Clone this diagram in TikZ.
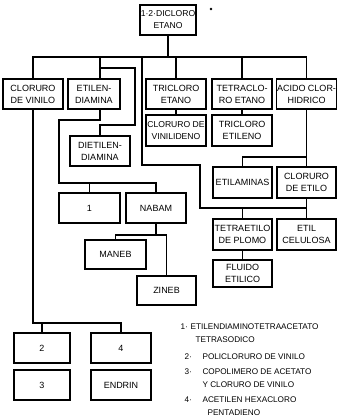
\documentclass[tikz,border=0pt]{standalone}
\usepackage{fontspec}
\setmainfont{Liberation Sans}
\usepackage{tikz}
\usetikzlibrary{calc}

\begin{document}
\begin{tikzpicture}[x=1pt,y=-1pt,line width=1.1pt,
  caja/.style={draw,line width=1.2pt,align=center,inner sep=0.5pt,minimum width=60pt,minimum height=30pt,font=\fontsize{9}{12}\selectfont},
  nota/.style={anchor=west,inner sep=0pt,font=\fontsize{8.2}{9}\selectfont}]
  \fill[white] (0,0) rectangle (337,420);
  \node[caja,minimum width=56pt,font=\fontsize{8.6}{12}\selectfont] (dicloro) at (168,20) {1·2·DICLORO\\ETANO};
  \fill (211,9) circle (1.4);
  \node[caja] (vinilo) at (33,94) {CLORURO\\DE VINILO};
  \node[caja,minimum width=52pt] (etilen) at (94,94) {ETILEN-\\DIAMINA};
  \node[caja] (tricloro) at (176,94) {TRICLORO\\ETANO};
  \node[caja] (tetra) at (242,94) {TETRACLO-\\RO ETANO};
  \node[caja] (acido) at (306.5,94) {ACIDO CLOR-\\HIDRICO};
  \node[caja,minimum height=31pt,font=\fontsize{8.6}{12}\selectfont] (vinilideno) at (176,130.5) {CLORURO DE\\VINILIDENO};
  \node[caja,minimum height=31pt] (trietileno) at (242,130.5) {TRICLORO\\ETILENO};
  \node[caja] (dietilen) at (100,151) {DIETILEN-\\DIAMINA};
  \node[caja,minimum width=59pt,minimum height=31pt] (etilaminas) at (242.5,182.5) {ETILAMINAS};
  \node[caja,minimum width=59pt,minimum height=31pt] (cletilo) at (306.5,182.5) {CLORURO\\DE ETILO};
  \node[caja,minimum width=59pt,minimum height=31pt] (tetraetilo) at (242.5,234.5) {TETRAETILO\\DE PLOMO};
  \node[caja,minimum width=59pt,minimum height=31pt] (celulosa) at (306.5,234.5) {ETIL\\CELULOSA};
  \node[caja,minimum width=59pt,minimum height=27pt] (fluido) at (242.5,273.5) {FLUIDO\\ETILICO};
  \node[caja,minimum width=61pt] (uno) at (89.5,208) {1};
  \node[caja] (nabam) at (156,208) {NABAM};
  \node[caja,minimum width=61pt,minimum height=29pt] (maneb) at (115.5,254.5) {MANEB};
  \node[caja,minimum width=59pt,minimum height=29pt] (zineb) at (166.5,290.5) {ZINEB};
  \node[caja,minimum width=56pt] (dos) at (42,348) {2};
  \node[caja] (cuatro) at (121,348) {4};
  \node[caja,minimum width=56pt] (tres) at (42,385) {3};
  \node[caja] (endrin) at (121,385) {ENDRIN};

  \coordinate (barra) at (0,57);
  \draw (dicloro.south) -- (dicloro.south |- barra);
  \draw (vinilo.north) |- (acido.north |- barra) -- (acido.north);
  \foreach \n in {tricloro,tetra}
    \draw (\n.north) -- (\n.north |- barra);
  \draw (tricloro.south) -- (vinilideno.north);
  \draw (tetra.south) -- (trietileno.north);

  \coordinate (e) at (100,68);
  \coordinate (codo) at (135,125);
  \draw (etilen.north -| e) -- (e |- barra);
  \draw (e) -| (codo) -| (dietilen.north);
  \coordinate (f) at (59,120);
  \coordinate (g) at (59,183);
  \draw (etilen.south -| e) |- (f) -- (g) -| (nabam.north);
  \draw (uno.north) -- (uno.north |- g);
  \coordinate (n) at (0,235);
  \draw (nabam.south) -- (nabam.south |- n);
  \draw (maneb.north) |- (zineb.north |- n) -- (zineb.north);

  \coordinate (h) at (0,157);
  \draw (acido.south) -- (cletilo.north);
  \draw (etilaminas.north) |- (cletilo.north |- h);
  \coordinate (t) at (142,165);
  \coordinate (u) at (200,208);
  \draw (t |- barra) -- (t) -| (u) -- (u -| cletilo.south);
  \draw (cletilo.south) -- (celulosa.north);
  \draw (tetraetilo.north) -- (tetraetilo.north |- u);
  \draw (tetraetilo.south) -- (fluido.north);

  \coordinate (v) at (0,323);
  \draw (vinilo.south) |- (cuatro.north |- v) -- (cuatro.north);
  \draw (dos.north) -- (dos.north |- v);

  \node[nota] (num1) at (180,327) {1·};
  \node[nota] (ley1) at (190,327) {ETILENDIAMINOTETRAACETATO};
  \node[nota] (ley1b) at (195,340) {TETRASODICO};
  \node[nota] (num2) at (184,357) {2·};
  \node[nota] (ley2) at (202,357) {POLICLORURO DE VINILO};
  \node[nota] (num3) at (184,372) {3·};
  \node[nota] (ley3) at (202,372) {COPOLIMERO DE ACETATO};
  \node[nota] (ley3b) at (202,385) {Y CLORURO DE VINILO};
  \node[nota] (num4) at (184,400) {4·};
  \node[nota] (ley4) at (202,400) {ACETILEN HEXACLORO};
  \node[nota] (ley4b) at (207,413) {PENTADIENO};
\end{tikzpicture}
\end{document}
